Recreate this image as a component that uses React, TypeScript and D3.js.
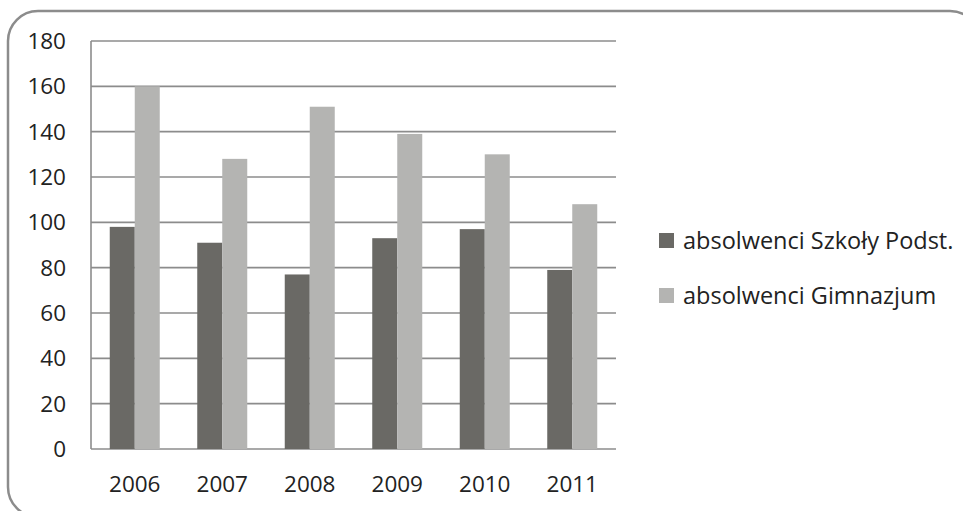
import React from "react";
import * as d3 from "d3";

const years = ["2006", "2007", "2008", "2009", "2010", "2011"];
const seriesNames = ["absolwenci Szkoły Podst.", "absolwenci Gimnazjum"];
const podst = [98, 91, 77, 93, 97, 79];
const gimn = [160, 128, 151, 139, 130, 108];
const yTicks = [0, 20, 40, 60, 80, 100, 120, 140, 160, 180];
const colors = ["#6a6965", "#b4b4b2"];

const W = 963;
const H = 511;
const plot = { left: 91, right: 616, top: 41, bottom: 449 };
const font = "'Open Sans', 'Liberation Sans', sans-serif";

export default function App() {
  const x = d3.scaleBand<string>().domain(years).range([plot.left, plot.right]).paddingInner(0).paddingOuter(0);
  const y = d3.scaleLinear().domain([0, 180]).range([plot.bottom, plot.top]);
  const bw = x.bandwidth() / 3.5;
  const series = [podst, gimn];

  return (
    <svg width={W} height={H} style={{ position: "absolute", left: 0, top: 0, background: "#fff" }}>
      <rect x={8} y={11} width={972} height={506} rx={30} ry={30} fill="#fff" stroke="#8c8c8c" strokeWidth={2.5} />
      {yTicks.map((t) => (
        <line key={"g" + t} x1={plot.left} x2={plot.right} y1={y(t)} y2={y(t)} stroke="#8c8c8c" strokeWidth={1.6} />
      ))}
      <line x1={plot.left} x2={plot.left} y1={plot.top} y2={plot.bottom} stroke="#8c8c8c" strokeWidth={1.6} />
      {series.map((vals, si) =>
        vals.map((v, i) => {
          const x0 = (x(years[i]) as number) + 0.75 * bw + si * bw;
          return (
            <rect key={si + "-" + i} x={x0} y={y(v)} width={bw} height={y(0) - y(v)} fill={colors[si]} />
          );
        })
      )}
      {yTicks.map((t) => (
        <text key={"t" + t} x={66} y={y(t)} dy="0.35em" textAnchor="end" fontFamily={font} fontSize={22.5} fill="#222">
          {t}
        </text>
      ))}
      {years.map((yr) => (
        <text key={yr} x={(x(yr) as number) + x.bandwidth() / 2} y={484} dy="0.35em" textAnchor="middle" fontFamily={font} fontSize={22.5} fill="#222">
          {yr}
        </text>
      ))}
      {seriesNames.map((n, i) => (
        <g key={n} transform={`translate(659, ${233 + i * 55})`}>
          <rect x={0} y={0} width={15} height={15} fill={colors[i]} />
          <text x={24} y={7.5} dy="0.35em" fontFamily={font} fontSize={23.5} fill="#222">
            {n}
          </text>
        </g>
      ))}
    </svg>
  );
}
